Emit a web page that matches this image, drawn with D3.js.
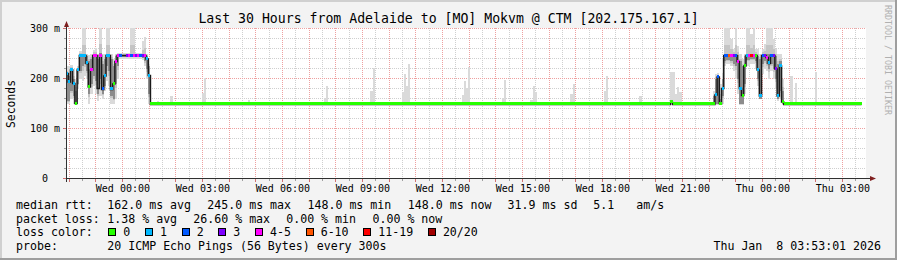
<!DOCTYPE html>
<html><head><meta charset="utf-8">
<script src="https://cdn.jsdelivr.net/npm/d3@7"></script>
<style>
html,body{margin:0;padding:0;background:#f3f3f3;}
svg{display:block;font-family:"DejaVu Sans Mono",monospace;}
text{white-space:pre;}
</style>
</head><body>
<svg id="c" width="897" height="260"></svg>
<script>
// ---------------- DATA ----------------
const titleText = "Last 30 Hours from Adelaide to [MO] Mokvm @ CTM [202.175.167.1]";
const yAxisTitle = "Seconds";
const creditText = "RRDTOOL / TOBI OETIKER";
const endTime = new Date(2026, 0, 8, 3, 53, 1);
const hoursShown = 30;
const stepMinutes = 5;
const yMajorTicks = [0, 100, 200, 300];
const yTickLabels = ["0", "100 m", "200 m", "300 m"];
const yMinorTicks = [20, 40, 60, 80, 120, 140, 160, 180, 220, 240, 260, 280];

const lossLabels = ["0", "1", "2", "3", "4-5", "6-10", "11-19", "20/20"];
const lossColors = ["#26ff00", "#00b8ff", "#0059ff", "#7e00ff", "#ff00ff", "#ff5500", "#ff0000", "#a10000"];

const rttStats = ["162.0 ms avg", "245.0 ms max", "148.0 ms min", "148.0 ms now", "31.9 ms sd", "5.1", "am/s"];
const lossStats = ["1.38 % avg", "26.60 % max", "0.00 % min", "0.00 % now"];
const probeText = "20 ICMP Echo Pings (56 Bytes) every 300s";
const stampText = "Thu Jan  8 03:53:01 2026";

// burst A : steps 0..37 (median ms, loss class index, smoke outer lo/hi, inner lo/hi)
const burstAStart = 0;
const burstAMedian = [210,193,217,190,150,217,246,246,246,230,183,217,246,246,180,246,178,205,246,246,178,189,234,246,246,246,246,246,246,246,246,246,246,246,246,246,239,206];
const burstALoss   = [1,1,1,1,0,1,1,1,1,1,0,4,4,4,null,4,2,1,1,1,1,0,4,4,2,null,null,3,4,2,4,3,4,2,3,4,1,1];
const burstALo     = [150,150,160,150,148,180,200,195,205,200,150,170,185,170,155,165,160,175,195,185,150,150,160,200,240,240,240,240,240,240,240,240,240,240,238,225,200,150];
const burstAHi     = [225,225,228,220,200,226,255,310,310,250,248,250,258,262,250,310,250,250,310,310,250,240,250,252,252,252,252,252,252,310,310,252,252,252,275,284,250,240];
const burstAInLo   = [155,155,175,165,150,190,215,225,230,215,170,190,205,195,170,200,170,185,225,215,165,160,190,225,243,243,243,243,243,243,243,243,243,243,242,235,220,170];
const burstAInHi   = [212,205,220,200,175,220,248,250,250,245,235,240,250,250,240,252,230,240,250,250,240,225,245,248,248,248,248,248,248,250,250,248,248,248,250,250,245,225];

// burst B : steps 291..322
const burstBStart = 291;
const burstBMedian = [148,167,203,150,180,246,246,246,246,246,246,234,180,166,225,246,246,246,246,246,217,165,246,246,242,230,246,246,219,165,225,153];
const burstBLoss   = [0,1,2,0,1,2,2,5,4,3,2,4,1,0,0,1,4,6,4,0,1,1,2,3,4,1,2,3,3,1,1,0];
const burstBLo     = [148,148,148,148,150,225,230,230,225,215,200,170,148,148,170,225,225,230,230,220,185,160,210,220,215,200,215,200,180,155,160,148];
const burstBHi     = [175,210,212,190,240,310,310,310,280,260,310,265,250,240,250,310,310,290,310,260,260,250,260,270,310,310,310,280,260,250,250,200];
const burstBInLo   = [148,150,150,148,165,235,238,238,235,230,225,200,150,150,190,238,238,240,240,235,200,160,230,235,230,220,230,220,200,160,175,150];
const burstBInHi   = [165,200,205,160,200,250,250,250,250,250,250,248,235,225,245,250,250,250,250,250,245,240,250,250,250,250,250,250,245,230,235,175];

// quiet periods: [first step, step after last, median ms, loss class]
const quietRuns = [[38, 272, 148, 0], [272, 273, 152, 0], [273, 291, 148, 0], [323, 358, 148, 0]];
// isolated smoke spikes in quiet periods: step, max ping (ms)
const spikeSteps = [41,45,46,47,61,62,82,116,117,137,138,151,152,153,154,156,178,179,180,181,196,197,209,210,211,227,228,242,243,258,272,273,274,275,276,326,328,337,344];
const spikeMax   = [155,153,153,165,171,201,157,161,186,176,221,173,210,185,230,152,168,196,182,223,161,198,158,186,174,170,190,175,205,165,214,214,170,184,174,205,192,213,153];
const quietBase = 148;

// ---------------- CHART ----------------
const W = 897, H = 260;
const svg = d3.select("#c");
const startTime = d3.timeHour.offset(endTime, -hoursShown);
const x = d3.scaleTime().domain([startTime, endTime]).range([66, 866]);
const y = d3.scaleLinear().domain([0, 300]).range([178.5, 28.5]);
const stepT = n => new Date(startTime.getTime() + n * stepMinutes * 60000);
const px = t => Math.floor(x(t)) + 0.5;

// background & frame
svg.append("rect").attr("width", W).attr("height", H).attr("fill", "#f3f3f3");
svg.append("rect").attr("x", 0).attr("y", 0).attr("width", W).attr("height", 2).attr("fill", "#d0d0d0");
svg.append("rect").attr("x", 0).attr("y", 0).attr("width", 2).attr("height", H).attr("fill", "#d0d0d0");
svg.append("rect").attr("x", 0).attr("y", H - 2).attr("width", W).attr("height", 2).attr("fill", "#9e9e9e");
svg.append("rect").attr("x", W - 2).attr("y", 0).attr("width", 2).attr("height", H).attr("fill", "#9e9e9e");

// canvas
svg.append("rect").attr("x", 66).attr("y", 28).attr("width", 800).attr("height", 151).attr("fill", "#ffffff");
svg.append("defs").append("clipPath").attr("id", "plot")
  .append("rect").attr("x", 66).attr("y", 28).attr("width", 800).attr("height", 151);

// grid
const grid = svg.append("g").attr("shape-rendering", "crispEdges").attr("stroke-dasharray", "1,1");
const minorTimes = d3.timeMinute.every(30).range(startTime, endTime).filter(d => d.getMinutes() !== 0);
const majorTimes = d3.timeHour.every(1).range(startTime, endTime);
grid.selectAll(".vmin").data(minorTimes).join("line")
  .attr("x1", px).attr("x2", px).attr("y1", 28).attr("y2", 178)
  .attr("stroke", "#cfcfcf");
grid.selectAll(".hmin").data(yMinorTicks).join("line")
  .attr("x1", 66).attr("x2", 866).attr("y1", d => y(d)).attr("y2", d => y(d))
  .attr("stroke", "#cfcfcf");
grid.selectAll(".vmaj").data(majorTimes).join("line")
  .attr("x1", px).attr("x2", px).attr("y1", 28).attr("y2", 178)
  .attr("stroke", "#eea0a0");
grid.selectAll(".hmaj").data(yMajorTicks.filter(v => v > 0)).join("line")
  .attr("x1", 66).attr("x2", 866).attr("y1", d => y(d)).attr("y2", d => y(d))
  .attr("stroke", "#eea0a0");

// assemble step records
const smoke = [];
const med = [];
function addBurst(start, m, l, lo, hi, ilo, ihi) {
  m.forEach((v, i) => {
    smoke.push({n: start + i, lo: lo[i], hi: hi[i], ilo: ilo[i], ihi: ihi[i]});
    med.push({s: start + i, e: start + i + 1, v: v, loss: l[i]});
  });
}
addBurst(burstAStart, burstAMedian, burstALoss, burstALo, burstAHi, burstAInLo, burstAInHi);
addBurst(burstBStart, burstBMedian, burstBLoss, burstBLo, burstBHi, burstBInLo, burstBInHi);
quietRuns.forEach(r => med.push({s: r[0], e: r[1], v: r[2], loss: r[3]}));
spikeSteps.forEach((n, i) => smoke.push({n: n, lo: quietBase, hi: spikeMax[i], ilo: null, ihi: null}));
med.sort((a, b) => a.s - b.s);

const plot = svg.append("g").attr("clip-path", "url(#plot)");
const sm = plot.append("g").attr("shape-rendering", "crispEdges");
const colX = d => x(stepT(d.n));
const colW = d => x(stepT(d.n + 1)) - x(stepT(d.n));
sm.selectAll(".o").data(smoke).join("rect")
  .attr("x", colX).attr("width", colW)
  .attr("y", d => y(d.hi)).attr("height", d => y(d.lo) - y(d.hi))
  .attr("fill", "#dadada");
const inner = smoke.filter(d => d.ilo != null);
sm.selectAll(".m").data(inner).join("rect")
  .attr("x", colX).attr("width", colW)
  .attr("y", d => y(d.ihi + (d.hi - d.ihi) * 0.3)).attr("height", d => y(d.ilo - (d.ilo - d.lo) * 0.3) - y(d.ihi + (d.hi - d.ihi) * 0.3))
  .attr("fill", "#c4c4c4");
sm.selectAll(".i").data(inner).join("rect")
  .attr("x", colX).attr("width", colW)
  .attr("y", d => y(d.ihi)).attr("height", d => y(d.ilo) - y(d.ihi))
  .attr("fill", "#8c8c8c");

// median line
const linePts = med.map(d => [x(stepT(d.s)), y(d.v)]);
const last = med[med.length - 1];
linePts.push([x(stepT(last.e)), y(last.v)]);
plot.append("path").attr("d", d3.line().curve(d3.curveStepAfter)(linePts))
  .attr("fill", "none").attr("stroke", "#1a1a1a").attr("stroke-width", 1.5);

// loss colour patches
plot.append("g").attr("shape-rendering", "crispEdges")
  .selectAll("rect").data(med.filter(d => d.loss != null)).join("rect")
  .attr("x", d => x(stepT(d.s))).attr("width", d => x(stepT(d.e)) - x(stepT(d.s)))
  .attr("y", d => Math.round(y(d.v)) - 2).attr("height", 3)
  .attr("fill", d => lossColors[d.loss]);

// axes
const ax = svg.append("g").attr("shape-rendering", "crispEdges");
ax.append("line").attr("x1", 63).attr("x2", 870).attr("y1", 178.5).attr("y2", 178.5).attr("stroke", "#303030");
ax.append("line").attr("x1", 66.5).attr("x2", 66.5).attr("y1", 182).attr("y2", 25).attr("stroke", "#303030");
ax.selectAll(".tx").data(majorTimes).join("line")
  .attr("x1", px).attr("x2", px).attr("y1", 179).attr("y2", 182).attr("stroke", "#d07070");
ax.selectAll(".txm").data(minorTimes).join("line")
  .attr("x1", px).attr("x2", px).attr("y1", 179).attr("y2", 181).attr("stroke", "#a0a0a0");
ax.selectAll(".ty").data(yMajorTicks).join("line")
  .attr("x1", 63).attr("x2", 66).attr("y1", d => y(d)).attr("y2", d => y(d)).attr("stroke", "#d07070");
ax.selectAll(".tym").data(yMinorTicks).join("line")
  .attr("x1", 64).attr("x2", 66).attr("y1", d => y(d)).attr("y2", d => y(d)).attr("stroke", "#a0a0a0");
// arrows
svg.append("path").attr("d", "M64,27 L69,27 L66.5,21 Z").attr("fill", "#7f1f1f");
svg.append("path").attr("d", "M870,176 L870,181 L876,178.5 Z").attr("fill", "#7f1f1f");

// axis labels
const labelTimes = d3.timeHour.every(3).range(startTime, endTime);
const fmt = d3.timeFormat("%a %H:%M");
svg.append("g").selectAll("text").data(labelTimes).join("text")
  .attr("x", d => x(d) + 0.5).attr("y", 191.5).attr("text-anchor", "middle")
  .attr("font-size", "10px").attr("fill", "#000").text(fmt);
svg.append("g").selectAll("text").data(yMajorTicks).join("text")
  .attr("x", 45).attr("y", d => y(d) + 3.5).attr("text-anchor", "middle")
  .attr("font-size", "10px").attr("fill", "#000").text((d, i) => yTickLabels[i]);

// titles
svg.append("text").attr("x", 448.5).attr("y", 23).attr("text-anchor", "middle")
  .attr("font-size", "13.2px").attr("fill", "#000").text(titleText);
svg.append("text").attr("transform", "translate(15,104) rotate(-90)").attr("text-anchor", "middle")
  .attr("font-size", "11.4px").attr("fill", "#000").text(yAxisTitle);
svg.append("text").attr("transform", "translate(885,5) rotate(90)")
  .attr("font-size", "8.3px").attr("fill", "#b0b0b0").text(creditText);

// legend
const lg = svg.append("g").attr("font-size", "11.6px").attr("fill", "#000");
lg.append("text").attr("x", 16).attr("y", 208.5).text("median rtt:");
const rttX = [107.3, 207.3, 307.5, 407.8, 507.6, 593.3, 636.3];
rttStats.forEach((s, i) => lg.append("text").attr("x", rttX[i]).attr("y", 208.5).text(s));
lg.append("text").attr("x", 16).attr("y", 222.5).text("packet loss:");
const lossX = [107.3, 193.3, 286.2, 372.5];
lossStats.forEach((s, i) => lg.append("text").attr("x", lossX[i]).attr("y", 222.5).text(s));
lg.append("text").attr("x", 16).attr("y", 236).text("loss color:");
let bx = 108.3;
lossLabels.forEach((s, i) => {
  lg.append("rect").attr("x", Math.round(bx) + 0.5).attr("y", 228.5).attr("width", 7).attr("height", 7)
    .attr("fill", lossColors[i]).attr("stroke", "#000").attr("stroke-width", 1).attr("shape-rendering", "crispEdges");
  lg.append("text").attr("x", bx + 15).attr("y", 236).text(s);
  bx += 29.7 + 6.98 * s.length;
});
lg.append("text").attr("x", 16).attr("y", 250).text("probe:");
lg.append("text").attr("x", 107.3).attr("y", 250).text(probeText);
lg.append("text").attr("x", 881).attr("y", 250).attr("text-anchor", "end").text(stampText);
</script>
</body></html>
